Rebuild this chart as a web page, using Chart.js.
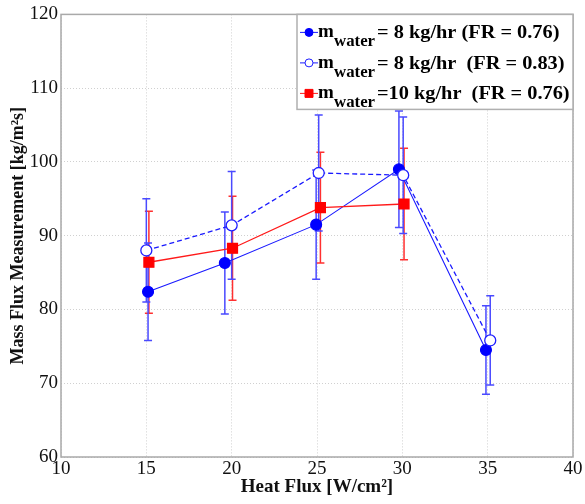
<!DOCTYPE html>
<html lang="en">
<head>
<meta charset="UTF-8">
<title>Mass Flux vs Heat Flux</title>
<script src="https://cdn.jsdelivr.net/npm/chart.js"></script>
<style>
  html, body { margin: 0; padding: 0; background: #fff; }
  #wrap { width: 585px; height: 504px; }
</style>
</head>
<body>
<div id="wrap"><canvas id="fluxChart" width="585" height="504"></canvas></div>
<script>
// m_water = 8 kg/hr, FR = 0.76 (filled circles)
const heatFlux8a = [15.1, 19.6, 24.95, 29.8, 34.9];
const massFlux8a = [82.4, 86.3, 91.5, 99.0, 74.5];
const error8a = [6.6, 6.9, 7.4, 7.9, 6.0];

// m_water = 8 kg/hr, FR = 0.83 (open circles)
const heatFlux8b = [15.0, 20.0, 25.1, 30.05, 35.15];
const massFlux8b = [88.0, 91.4, 98.5, 98.2, 75.8];
const error8b = [7.0, 7.3, 7.85, 7.9, 6.05];

// m_water = 10 kg/hr, FR = 0.76 (red squares)
const heatFlux10 = [15.15, 20.05, 25.2, 30.1];
const massFlux10 = [86.4, 88.3, 93.8, 94.3];
const error10 = [6.9, 7.05, 7.5, 7.55];

const xTicks = [10, 15, 20, 25, 30, 35, 40];
const yTicks = [60, 70, 80, 90, 100, 110, 120];
const legendRest = ['= 8 kg/hr (FR = 0.76)', '= 8 kg/hr  (FR = 0.83)', '=10 kg/hr  (FR = 0.76)'];

const serif = "'Liberation Serif', 'Times New Roman', serif";

function points(xs, ys) {
  return xs.map((x, i) => ({ x: x, y: ys[i] }));
}

// vertical error bars with caps, drawn under the markers
const errorBars = {
  id: 'errorBars',
  beforeDatasetsDraw(chart) {
    const { ctx, scales: { x, y } } = chart;
    chart.data.datasets.forEach(ds => {
      ctx.save();
      ctx.strokeStyle = ds.errorColor;
      ctx.lineWidth = 1.5;
      ds.data.forEach((p, j) => {
        const px = x.getPixelForValue(p.x);
        const top = y.getPixelForValue(p.y + ds.errors[j]);
        const bot = y.getPixelForValue(p.y - ds.errors[j]);
        ctx.beginPath();
        ctx.moveTo(px, top); ctx.lineTo(px, bot);
        ctx.moveTo(px - 4, top); ctx.lineTo(px + 4, top);
        ctx.moveTo(px - 4, bot); ctx.lineTo(px + 4, bot);
        ctx.stroke();
      });
      ctx.restore();
    });
  }
};

// text squeezed/stretched sideways, the source figure is a bit wide
function wideText(ctx, str, x, y, sx) {
  ctx.save();
  ctx.translate(x, y);
  ctx.scale(sx, 1);
  ctx.fillText(str, 0, 0);
  ctx.restore();
}

// grey frame round the plot and the boxed legend
const frameAndLegend = {
  id: 'frameAndLegend',
  afterDraw(chart) {
    const { ctx, chartArea: a } = chart;
    ctx.save();
    ctx.strokeStyle = '#a9a9a9';
    ctx.lineWidth = 1.5;
    ctx.strokeRect(a.left, a.top, a.right - a.left, a.bottom - a.top);

    const w = 276, h = 95;
    const left = a.right - w, top = a.top;
    ctx.fillStyle = '#fff';
    ctx.fillRect(left, top, w, h);
    ctx.strokeStyle = '#b0b0b0';
    ctx.lineWidth = 1.5;
    ctx.strokeRect(left, top, w, h);

    const sets = [chart.data.datasets[2], chart.data.datasets[1], chart.data.datasets[0]];
    sets.forEach((ds, i) => {
      const cy = top + 18 + i * 30.5;
      ctx.strokeStyle = ds.borderColor;
      ctx.lineWidth = 1;
      ctx.beginPath();
      ctx.moveTo(left + 3, cy); ctx.lineTo(left + 21, cy);
      ctx.stroke();
      ctx.fillStyle = ds.pointBackgroundColor;
      ctx.strokeStyle = ds.pointBorderColor;
      ctx.beginPath();
      if (ds.pointStyle === 'rect') {
        ctx.rect(left + 8, cy - 4, 8, 8);
      } else {
        ctx.arc(left + 12, cy, 4, 0, Math.PI * 2);
      }
      ctx.fill();
      ctx.stroke();

      ctx.fillStyle = '#000';
      ctx.textBaseline = 'alphabetic';
      ctx.textAlign = 'left';
      ctx.font = 'bold 19px ' + serif;
      ctx.fillText('m', left + 21, cy + 5);
      ctx.font = 'bold 16px ' + serif;
      wideText(ctx, 'water', left + 37, cy + 14, 1.05);
      ctx.font = 'bold 19px ' + serif;
      wideText(ctx, legendRest[i], left + 80, cy + 6, 1.07);
    });
    ctx.restore();
  }
};

const ctxFlux = document.getElementById('fluxChart').getContext('2d');

new Chart(ctxFlux, {
  type: 'line',
  data: {
    datasets: [
      {
        label: 'm_water =10 kg/hr (FR = 0.76)',
        data: points(heatFlux10, massFlux10),
        errors: error10,
        errorColor: '#ff3030',
        borderColor: '#ff1a1a',
        borderWidth: 1.3,
        pointStyle: 'rect',
        pointRadius: 7,
        pointBackgroundColor: '#ff0000',
        pointBorderColor: '#ff0000',
        order: 0
      },
      {
        label: 'm_water = 8 kg/hr (FR = 0.83)',
        data: points(heatFlux8b, massFlux8b),
        errors: error8b,
        errorColor: '#4a4aff',
        borderColor: '#1a1aff',
        borderWidth: 1.3,
        borderDash: [5, 3],
        pointStyle: 'circle',
        pointRadius: 5.5,
        pointBorderWidth: 1.3,
        pointBackgroundColor: '#ffffff',
        pointBorderColor: '#2020ff',
        order: 1
      },
      {
        label: 'm_water = 8 kg/hr (FR = 0.76)',
        data: points(heatFlux8a, massFlux8a),
        errors: error8a,
        errorColor: '#4a4aff',
        borderColor: '#1a1aff',
        borderWidth: 1.1,
        pointStyle: 'circle',
        pointRadius: 5.5,
        pointBackgroundColor: '#0000ff',
        pointBorderColor: '#0000ff',
        order: 2
      }
    ]
  },
  options: {
    responsive: false,
    animation: false,
    events: [],
    layout: { padding: { top: 13, right: 12, left: 0, bottom: 0 } },
    plugins: { legend: { display: false }, tooltip: { enabled: false } },
    elements: { line: { tension: 0, fill: false } },
    scales: {
      x: {
        type: 'linear',
        min: 10,
        max: 40,
        afterBuildTicks: s => { s.ticks = xTicks.map(v => ({ value: v })); },
        afterFit: s => { s.height = 47; },
        grid: { color: '#d0d0d0', lineWidth: 1, drawTicks: false },
        border: { display: false, dash: [1, 2] },
        ticks: { color: '#111', padding: 1, font: { family: serif, size: 19 } },
        title: {
          display: true,
          text: 'Heat Flux [W/cm²]',
          color: '#111',
          font: { family: serif, size: 19, weight: 'bold' },
          padding: { top: 0, bottom: 6 }
        }
      },
      y: {
        min: 60,
        max: 120,
        afterBuildTicks: s => { s.ticks = yTicks.map(v => ({ value: v })); },
        afterFit: s => { s.width = 61; },
        grid: { color: '#d0d0d0', lineWidth: 1, drawTicks: false },
        border: { display: false, dash: [1, 2] },
        ticks: { color: '#111', padding: 3, font: { family: serif, size: 19 } },
        title: {
          display: true,
          text: 'Mass Flux Measurement [kg/m²s]',
          color: '#111',
          font: { family: serif, size: 18, weight: 'bold' },
          padding: { top: 8, bottom: 0 }
        }
      }
    }
  },
  plugins: [errorBars, frameAndLegend]
});
</script>
</body>
</html>
